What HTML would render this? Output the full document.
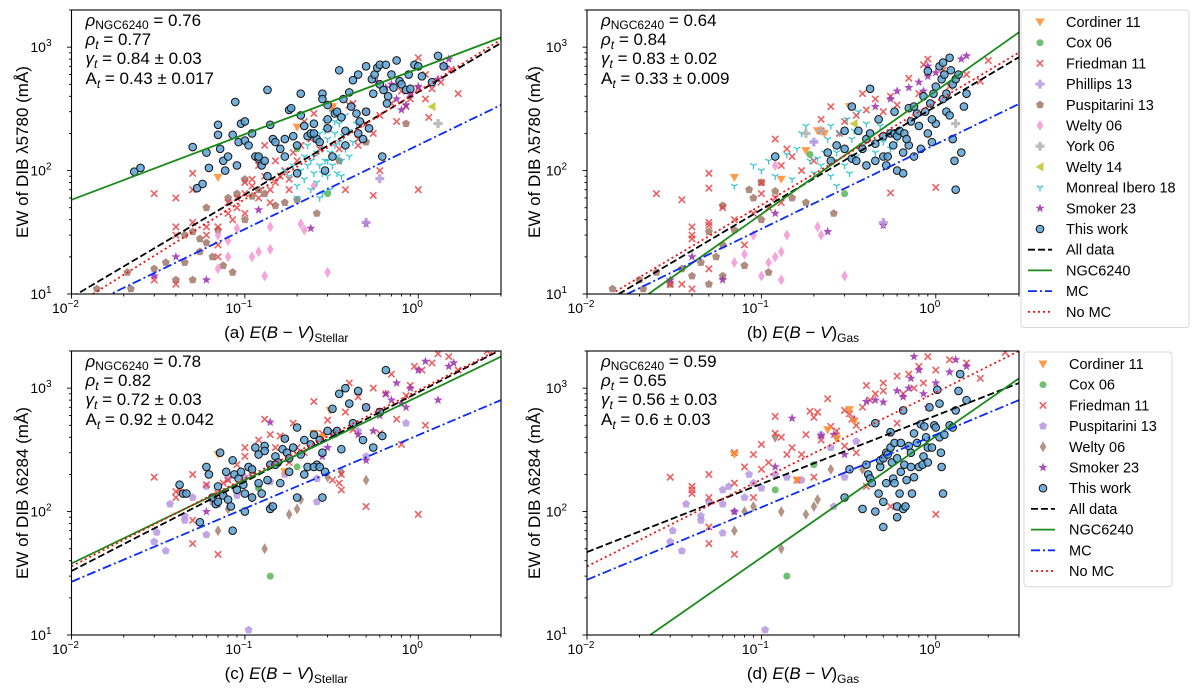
<!DOCTYPE html>
<html><head><meta charset="utf-8">
<style>
html,body{margin:0;padding:0;background:#fff;}
svg{display:block;font-family:"Liberation Sans","DejaVu Sans",sans-serif;}
</style></head>
<body>
<svg id="fig" width="1200" height="695" viewBox="0 0 1200 695" xmlns="http://www.w3.org/2000/svg"></svg>
<script>
// ---------- DATA ----------
// Panel a: EW 5780 vs E(B-V) stellar
const a_thisWork=[[0.023,98],[0.025,105],[0.05,155],[0.053,72],[0.057,78],[0.06,140],[0.062,105],[0.07,235],[0.07,195],[0.072,150],[0.075,120],[0.077,100],[0.08,130],[0.085,195],[0.088,360],[0.09,110],[0.092,170],[0.095,240],[0.1,250],[0.1,175],[0.105,160],[0.11,200],[0.115,130],[0.12,125],[0.125,110],[0.13,120],[0.135,450],[0.135,90],[0.14,235],[0.145,180],[0.15,170],[0.16,150],[0.17,180],[0.18,310],[0.185,320],[0.19,190],[0.2,160],[0.21,420],[0.21,280],[0.22,230],[0.23,190],[0.24,200],[0.25,240],[0.26,180],[0.27,170],[0.28,420],[0.28,380],[0.3,260],[0.3,220],[0.32,130],[0.33,290],[0.34,300],[0.35,650],[0.36,270],[0.37,380],[0.38,210],[0.4,430],[0.41,330],[0.42,540],[0.44,290],[0.45,600],[0.46,250],[0.48,180],[0.5,700],[0.5,300],[0.52,220],[0.54,550],[0.56,600],[0.58,680],[0.6,720],[0.6,500],[0.62,130],[0.63,450],[0.65,720],[0.67,400],[0.7,600],[0.72,470],[0.75,780],[0.78,530],[0.8,500],[0.85,450],[0.88,600],[0.9,460],[0.95,720],[1.0,700],[1.05,580],[1.2,520],[1.3,850],[1.4,700],[0.45,200],[0.38,160],[0.3,340],[0.55,420],[0.66,350],[0.12,130],[0.17,130],[0.25,200],[0.2,95],[0.29,100]];
const a_monreal=[[0.18,90],[0.19,110],[0.2,75],[0.21,100],[0.22,130],[0.22,85],[0.23,160],[0.24,70],[0.24,120],[0.25,95],[0.25,180],[0.26,140],[0.26,80],[0.27,110],[0.27,200],[0.28,65],[0.28,150],[0.29,120],[0.29,250],[0.3,90],[0.3,180],[0.31,70],[0.31,140],[0.32,110],[0.32,300],[0.33,200],[0.33,160],[0.34,95],[0.34,130],[0.35,240],[0.35,170],[0.36,120],[0.37,190],[0.38,150],[0.38,280],[0.4,210],[0.4,130],[0.42,170],[0.44,240],[0.2,60],[0.17,100],[0.27,60],[0.36,90],[0.3,120],[0.23,110],[0.29,210],[0.33,250],[0.25,130],[0.31,220],[0.28,95]];
const a_friedman=[[0.03,65],[0.03,13],[0.04,60],[0.04,35],[0.04,30],[0.04,12],[0.05,95],[0.05,70],[0.05,38],[0.06,30],[0.06,35],[0.07,35],[0.07,25],[0.07,20],[0.08,45],[0.08,55],[0.085,40],[0.09,50],[0.09,60],[0.1,65],[0.1,80],[0.1,45],[0.11,85],[0.11,75],[0.12,60],[0.12,110],[0.13,160],[0.13,90],[0.14,70],[0.14,55],[0.15,120],[0.15,80],[0.16,90],[0.17,100],[0.18,85],[0.18,70],[0.19,140],[0.2,120],[0.21,160],[0.22,250],[0.24,180],[0.25,290],[0.27,150],[0.3,220],[0.32,320],[0.35,150],[0.38,70],[0.42,350],[0.45,160],[0.5,240],[0.5,300],[0.55,200],[0.55,63],[0.6,100],[0.6,280],[0.7,350],[0.75,250],[0.8,440],[0.85,330],[0.9,380],[1.0,70],[1.0,460],[1.1,600],[1.1,380],[1.15,270],[1.2,460],[1.35,520],[1.55,660],[1.7,420],[1.0,820],[0.45,180],[0.4,340]];
const a_puspitarini=[[0.014,11],[0.021,15],[0.022,11],[0.03,16],[0.035,18],[0.04,13],[0.045,18],[0.05,13],[0.05,32],[0.055,22],[0.06,50],[0.06,26],[0.065,20],[0.07,33],[0.075,17],[0.08,60],[0.085,15],[0.09,65],[0.1,40],[0.1,85],[0.11,62],[0.13,65],[0.15,52],[0.17,55],[0.2,58],[0.26,45],[0.35,120],[0.5,170],[0.85,240],[0.045,30],[0.055,28],[0.12,70]];
const a_welty06=[[0.07,30],[0.08,20],[0.08,27],[0.09,34],[0.11,20],[0.12,22],[0.13,14],[0.14,23],[0.14,35],[0.21,37],[0.22,33],[0.3,15],[0.5,38],[0.07,16],[0.25,75]];
const a_smoker=[[0.03,14],[0.04,20],[0.06,13],[0.12,48],[0.24,34],[0.5,37],[0.75,380],[0.8,310],[0.85,340],[0.9,420],[1.0,480],[1.3,550],[1.4,720],[1.5,800],[1.45,690],[0.7,500],[0.65,470],[0.58,520]];
const a_cordiner=[[0.07,88],[0.32,330],[0.2,225]];
const a_phillips=[[0.6,86],[0.5,38]];
const a_york=[[1.3,240]];
const a_welty14=[[1.2,330]];
const a_cox=[[0.2,150],[0.3,65]];
const a_lineAll=[[0.01,9.4],[3,1080]];
const a_lineNGC=[[0.01,58],[3,1200]];
const a_lineMC=[[0.01,7],[3,340]];
const a_lineNoMC=[[0.01,7.8],[3,1150]];

// Panel b: EW 5780 vs E(B-V) gas
const b_thisWork=[[0.12,130],[0.33,330],[0.42,460],[0.24,140],[0.25,120],[0.27,160],[0.3,150],[0.3,210],[0.33,125],[0.35,120],[0.36,210],[0.38,150],[0.4,180],[0.4,110],[0.42,200],[0.45,165],[0.47,260],[0.5,190],[0.5,130],[0.52,110],[0.53,130],[0.55,200],[0.57,160],[0.58,200],[0.6,100],[0.6,190],[0.62,210],[0.65,95],[0.65,140],[0.66,200],[0.7,320],[0.7,160],[0.72,250],[0.75,130],[0.78,290],[0.8,230],[0.82,150],[0.85,400],[0.87,300],[0.9,200],[0.9,640],[0.93,350],[0.95,170],[0.97,420],[1.0,480],[1.0,240],[1.05,700],[1.08,550],[1.1,750],[1.1,380],[1.12,600],[1.15,300],[1.2,820],[1.22,650],[1.25,500],[1.25,180],[1.28,120],[1.3,70],[1.3,550],[1.35,600],[1.4,140],[1.45,330],[1.5,420],[1.2,280],[0.45,120],[0.75,330],[0.95,260],[1.15,420],[0.58,300],[0.68,180]];
const b_monreal=[[0.07,75],[0.09,110],[0.1,100],[0.11,120],[0.12,90],[0.14,135],[0.15,85],[0.16,150],[0.17,200],[0.18,230],[0.19,120],[0.2,170],[0.2,95],[0.22,110],[0.23,140],[0.24,180],[0.25,90],[0.26,120],[0.27,75],[0.28,200],[0.29,150],[0.3,110],[0.31,260],[0.32,95],[0.33,180],[0.35,130],[0.36,300],[0.38,160],[0.4,240],[0.42,190],[0.45,140],[0.48,230],[0.5,170],[0.52,200],[0.55,150],[0.6,180],[0.27,140],[0.21,125],[0.34,210],[0.25,230]];
const b_friedman=[[0.025,65],[0.03,12],[0.035,58],[0.035,12],[0.04,35],[0.04,30],[0.04,28],[0.04,11],[0.05,95],[0.05,72],[0.05,36],[0.05,38],[0.05,16],[0.06,50],[0.07,40],[0.08,25],[0.09,45],[0.1,65],[0.1,80],[0.11,50],[0.12,60],[0.12,180],[0.13,55],[0.14,150],[0.15,130],[0.17,100],[0.2,120],[0.22,210],[0.22,260],[0.25,330],[0.28,200],[0.3,250],[0.35,280],[0.38,420],[0.4,310],[0.45,380],[0.5,300],[0.55,400],[0.55,66],[0.6,340],[0.7,560],[0.8,420],[0.85,720],[0.9,800],[1.0,73],[1.1,650],[1.2,480],[1.5,600],[1.8,530],[2.0,780],[0.13,110]];
const b_puspitarini=[[0.014,11],[0.02,13],[0.021,11],[0.025,15],[0.03,12],[0.035,16],[0.04,14],[0.045,18],[0.05,32],[0.05,12],[0.055,20],[0.06,52],[0.06,14],[0.07,33],[0.08,17],[0.085,70],[0.09,60],[0.1,80],[0.11,15],[0.12,68],[0.15,60],[0.18,55],[0.26,45],[0.06,25],[0.1,40]];
const b_welty06=[[0.07,18],[0.08,21],[0.09,30],[0.1,14],[0.11,18],[0.12,20],[0.13,13],[0.13,22],[0.14,30],[0.21,35],[0.22,30],[0.3,14],[0.5,37],[0.12,110]];
const b_smoker=[[0.03,13],[0.04,20],[0.06,13],[0.12,45],[0.24,32],[0.5,36],[0.45,330],[0.6,440],[0.7,470],[0.8,520],[0.85,440],[0.9,580],[1.0,620],[1.4,800],[1.5,850],[0.9,700],[0.55,380]];
const b_cordiner=[[0.07,88],[0.18,145],[0.21,210],[0.23,200],[0.32,330],[0.13,85]];
const b_phillips=[[0.5,38],[0.2,170]];
const b_york=[[0.18,200],[0.22,210],[1.3,240]];
const b_welty14=[[0.34,240]];
const b_cox=[[0.19,135],[0.3,65]];
const b_lineAll=[[0.0152,10],[3,830]];
const b_lineNGC=[[0.0225,10],[3,1320]];
const b_lineMC=[[0.017,10],[3,347]];
const b_lineNoMC=[[0.0146,10.5],[3,905]];

// Panel c: EW 6284 vs E(B-V) stellar
const c_thisWork=[[0.042,165],[0.044,140],[0.046,140],[0.055,82],[0.06,230],[0.062,200],[0.065,130],[0.068,115],[0.07,160],[0.072,300],[0.075,135],[0.078,210],[0.08,125],[0.083,110],[0.085,260],[0.085,70],[0.087,200],[0.09,150],[0.092,185],[0.095,210],[0.098,165],[0.1,140],[0.1,100],[0.105,230],[0.11,220],[0.115,330],[0.12,170],[0.12,290],[0.125,140],[0.13,340],[0.13,310],[0.135,180],[0.14,105],[0.14,240],[0.145,110],[0.15,280],[0.155,250],[0.16,170],[0.165,320],[0.17,390],[0.175,300],[0.18,210],[0.19,330],[0.2,480],[0.2,130],[0.21,290],[0.22,200],[0.22,380],[0.23,230],[0.24,350],[0.25,420],[0.26,240],[0.27,380],[0.28,300],[0.28,130],[0.29,210],[0.3,450],[0.32,680],[0.33,430],[0.34,450],[0.36,320],[0.38,1000],[0.4,750],[0.42,520],[0.45,950],[0.48,380],[0.5,700],[0.55,330],[0.6,640],[0.62,410],[0.65,1400],[0.25,230],[0.15,240],[0.11,130],[0.35,900],[0.18,270],[0.07,120],[0.27,230]];
const c_friedman=[[0.03,190],[0.04,130],[0.04,145],[0.042,150],[0.05,200],[0.05,85],[0.05,55],[0.06,165],[0.07,45],[0.07,140],[0.075,170],[0.08,180],[0.09,240],[0.1,280],[0.1,330],[0.11,210],[0.12,380],[0.13,560],[0.14,420],[0.15,330],[0.16,410],[0.17,390],[0.18,250],[0.19,520],[0.2,330],[0.22,300],[0.25,780],[0.28,430],[0.3,550],[0.32,180],[0.35,170],[0.36,150],[0.38,640],[0.4,1100],[0.42,460],[0.45,850],[0.5,700],[0.5,110],[0.55,1000],[0.6,430],[0.65,900],[0.7,1300],[0.75,560],[0.8,350],[0.85,870],[0.9,1050],[0.95,1500],[1.0,95],[1.05,1400],[1.1,500],[1.2,1600],[1.3,1900],[1.5,1800],[1.7,1400],[2.5,2000],[0.36,200],[0.6,650]];
const c_puspitarini=[[0.03,57],[0.031,68],[0.035,48],[0.037,115],[0.045,85],[0.045,92],[0.05,130],[0.06,65],[0.06,160],[0.065,120],[0.075,140],[0.08,185],[0.09,135],[0.1,190],[0.105,11],[0.12,160],[0.14,175],[0.17,200],[0.26,120],[0.26,185],[0.45,450],[0.85,520],[0.5,280]];
const c_welty06=[[0.07,70],[0.08,105],[0.13,50],[0.14,110],[0.18,95],[0.2,105],[0.21,125],[0.3,190],[0.36,210],[0.5,180],[0.11,130]];
const c_smoker=[[0.06,100],[0.07,115],[0.14,530],[0.28,280],[0.3,330],[0.45,420],[0.5,260],[0.55,450],[0.6,600],[0.7,800],[0.75,1100],[0.8,750],[0.85,700],[0.9,1000],[1.0,1400],[1.1,1650],[1.3,800],[1.5,1500],[1.6,1600],[0.65,900]];
const c_cordiner=[[0.07,290],[0.17,210],[0.25,430],[0.28,400],[0.31,660]];
const c_cox=[[0.14,30],[0.2,230],[0.12,155]];
const c_lineAll=[[0.01,33],[3,2050]];
const c_lineNGC=[[0.01,38],[3,1800]];
const c_lineMC=[[0.01,27],[3,800]];
const c_lineNoMC=[[0.01,36],[3,2100]];

// Panel d: EW 6284 vs E(B-V) gas
const d_thisWork=[[0.3,130],[0.32,220],[0.38,105],[0.4,240],[0.41,200],[0.42,185],[0.43,170],[0.45,520],[0.45,100],[0.47,140],[0.48,230],[0.48,260],[0.5,75],[0.5,270],[0.5,120],[0.52,300],[0.52,170],[0.53,290],[0.55,330],[0.55,440],[0.56,250],[0.57,185],[0.58,170],[0.58,360],[0.6,90],[0.6,270],[0.6,110],[0.62,140],[0.63,360],[0.63,210],[0.65,660],[0.65,105],[0.66,240],[0.67,110],[0.68,180],[0.7,340],[0.72,300],[0.73,140],[0.75,190],[0.75,430],[0.78,360],[0.8,230],[0.82,510],[0.84,240],[0.86,490],[0.88,400],[0.9,330],[0.92,700],[0.95,330],[0.98,500],[1.0,480],[1.02,970],[1.05,750],[1.05,400],[1.07,300],[1.08,230],[1.1,140],[1.12,420],[1.2,500],[1.25,480],[1.3,660],[1.35,950],[1.38,1300],[1.5,800],[0.72,230],[0.85,280],[0.9,250]];
const d_friedman=[[0.03,190],[0.04,140],[0.04,150],[0.04,160],[0.05,200],[0.05,75],[0.05,55],[0.05,130],[0.07,45],[0.07,300],[0.07,170],[0.08,230],[0.09,290],[0.09,130],[0.1,350],[0.1,220],[0.11,250],[0.12,590],[0.12,430],[0.13,400],[0.14,290],[0.15,330],[0.16,180],[0.17,290],[0.18,420],[0.19,650],[0.2,580],[0.21,640],[0.22,380],[0.24,820],[0.25,490],[0.27,450],[0.3,340],[0.3,660],[0.32,620],[0.33,560],[0.35,500],[0.38,700],[0.4,1050],[0.4,160],[0.42,800],[0.45,900],[0.5,950],[0.5,1100],[0.55,110],[0.6,1250],[0.6,520],[0.65,900],[0.7,1300],[0.75,1000],[0.8,1500],[0.85,1100],[0.9,1800],[1.0,1400],[1.0,95],[1.2,1700],[1.5,1600],[1.8,1200],[2.5,1950],[0.2,190],[0.35,300]];
const d_puspitarini=[[0.03,57],[0.031,70],[0.035,48],[0.037,115],[0.045,85],[0.045,92],[0.05,120],[0.06,115],[0.06,150],[0.06,67],[0.065,160],[0.07,100],[0.08,130],[0.085,200],[0.09,170],[0.1,155],[0.105,11],[0.12,200],[0.14,190],[0.17,180],[0.26,110],[0.3,190],[0.25,330],[0.35,370],[0.22,420]];
const d_welty06=[[0.07,70],[0.08,100],[0.09,110],[0.13,50],[0.13,100],[0.18,95],[0.2,110],[0.21,125],[0.25,220],[0.12,400],[0.27,400],[0.38,220]];
const d_smoker=[[0.07,100],[0.12,230],[0.15,570],[0.22,410],[0.26,420],[0.3,290],[0.34,560],[0.4,780],[0.45,800],[0.5,770],[0.55,430],[0.6,950],[0.65,850],[0.7,1000],[0.72,1200],[0.8,1400],[0.85,900],[0.9,700],[1.0,1100],[1.2,1350],[1.3,1700],[1.5,1500],[0.75,1800]];
const d_cordiner=[[0.07,290],[0.16,180],[0.24,460],[0.27,390],[0.32,670],[0.34,540]];
const d_cox=[[0.14,30],[0.12,150],[0.2,240]];
const d_lineAll=[[0.01,47],[3,1100]];
const d_lineNGC=[[0.023,10],[3,1200]];
const d_lineMC=[[0.01,28],[3,800]];
const d_lineNoMC=[[0.01,36],[3,2000]];

const xTickValues=[0.01,0.1,1];
const xTickExps=["−2","−1","0"];
const yTickValues=[10,100,1000];
const yTickExps=["1","2","3"];
const statsA=["0.76","0.77","0.84 ± 0.03","0.43 ± 0.017"];
const statsB=["0.64","0.84","0.83 ± 0.02","0.33 ± 0.009"];
const statsC=["0.78","0.82","0.72 ± 0.03","0.92 ± 0.042"];
const statsD=["0.59","0.65","0.56 ± 0.03","0.6 ± 0.03"];

// ---------- DRAWING ----------
const NS="http://www.w3.org/2000/svg";
const svg=document.getElementById('fig');
const XMIN=0.01,XMAX=3,YMIN=10,YMAX=2000;
function mk(tag,attrs,parent){const e=document.createElementNS(NS,tag);for(const k in attrs)e.setAttribute(k,attrs[k]);(parent||svg).appendChild(e);return e;}
function makeAxes(L,R,T,B){
  return {
    x:v=>L+(Math.log10(v)-Math.log10(XMIN))/(Math.log10(XMAX)-Math.log10(XMIN))*(R-L),
    y:v=>B-(Math.log10(v)-Math.log10(YMIN))/(Math.log10(YMAX)-Math.log10(YMIN))*(B-T),
    L,R,T,B
  };
}
const COL={thisWork:'#5da2d5',friedman:'#e8383b',monreal:'#17becf',puspBrown:'#a0786a',puspLilac:'#b597e0',weltyPink:'#f28fd0',weltyBrown:'#a07a6a',smoker:'#9a2fae',cordiner:'#ff8c2a',cox:'#4cb050',phillips:'#b597e0',york:'#b0b0b0',welty14:'#c2c22a'};

function marker(g,type,cx,cy,color){
  let e;
  if(type==='circle'){e=mk('circle',{cx,cy,r:3.8,fill:color,'fill-opacity':0.85,stroke:'#111','stroke-width':1},g);}
  else if(type==='dot'){e=mk('circle',{cx,cy,r:3.5,fill:color,'fill-opacity':0.8},g);}
  else if(type==='x'){const s=3.2;e=mk('path',{d:`M${cx-s},${cy-s}L${cx+s},${cy+s}M${cx-s},${cy+s}L${cx+s},${cy-s}`,stroke:color,'stroke-width':1.6,'stroke-opacity':0.8,fill:'none'},g);}
  else if(type==='tri1'){const s=3.8;e=mk('path',{d:`M${cx},${cy}L${cx},${cy+s}M${cx},${cy}L${cx-s*0.87},${cy-s*0.5}M${cx},${cy}L${cx+s*0.87},${cy-s*0.5}`,stroke:color,'stroke-width':1.3,'stroke-opacity':0.85,fill:'none'},g);}
  else if(type==='pent'){let p=[];for(let i=0;i<5;i++){const a=-Math.PI/2+i*2*Math.PI/5;p.push((cx+4.2*Math.cos(a)).toFixed(1)+','+(cy+4.2*Math.sin(a)).toFixed(1));}e=mk('polygon',{points:p.join(' '),fill:color,'fill-opacity':0.85},g);}
  else if(type==='star'){let p=[];for(let i=0;i<10;i++){const r=i%2?2.0:4.8;const a=-Math.PI/2+i*Math.PI/5;p.push((cx+r*Math.cos(a)).toFixed(1)+','+(cy+r*Math.sin(a)).toFixed(1));}e=mk('polygon',{points:p.join(' '),fill:color,'fill-opacity':0.85},g);}
  else if(type==='diamond'){e=mk('polygon',{points:`${cx},${cy-5.5} ${cx+3.3},${cy} ${cx},${cy+5.5} ${cx-3.3},${cy}`,fill:color,'fill-opacity':0.8},g);}
  else if(type==='tdown'){e=mk('polygon',{points:`${cx-4.6},${cy-3.5} ${cx+4.6},${cy-3.5} ${cx},${cy+4.5}`,fill:color,'fill-opacity':0.85},g);}
  else if(type==='tleft'){e=mk('polygon',{points:`${cx+3.5},${cy-4.6} ${cx+3.5},${cy+4.6} ${cx-4.5},${cy}`,fill:color,'fill-opacity':0.85},g);}
  else if(type==='plus'){const a=1.6,b=4.5;e=mk('path',{d:`M${cx-a},${cy-b}H${cx+a}V${cy-a}H${cx+b}V${cy+a}H${cx+a}V${cy+b}H${cx-a}V${cy+a}H${cx-b}V${cy-a}H${cx-a}Z`,fill:color,'fill-opacity':0.85},g);}
  return e;
}
function scatter(ax,g,pts,type,color,name){
  const grp=mk('g',{},g);
  
  
  pts.forEach(p=>{
    const e=marker(grp,type,ax.x(p[0]),ax.y(p[1]),color);
    
    
  });
}
function fitLine(ax,g,pts,color,dash,name,w){
  const e=mk('line',{x1:ax.x(pts[0][0]),y1:ax.y(pts[0][1]),x2:ax.x(pts[1][0]),y2:ax.y(pts[1][1]),stroke:color,'stroke-width':w||1.8,'stroke-dasharray':dash},g);
  
  
}
function panel(id,L,R,T,B,cfg){
  const ax=makeAxes(L,R,T,B);
  const root=mk('g',{});
  
  
  const cp=mk('clipPath',{id:'clip'+id},root);
  mk('rect',{x:L,y:T,width:R-L,height:B-T},cp);
  const g=mk('g',{'clip-path':'url(#clip'+id+')'},root);
  cfg.series.forEach(s=>scatter(ax,g,s[0],s[1],s[2],s[3]));
  fitLine(ax,g,cfg.lines.all,'#000','7,3','all-data-fit-line');
  fitLine(ax,g,cfg.lines.ngc,'#1a8a1a','none','ngc6240-fit-line');
  fitLine(ax,g,cfg.lines.mc,'#0a2af5','9,3,2,3','mc-fit-line');
  fitLine(ax,g,cfg.lines.nomc,'#f31010','2,3','no-mc-fit-line');
  // frame
  const fr=mk('rect',{x:L,y:T,width:R-L,height:B-T,fill:'none',stroke:'#000','stroke-width':1.1},root);
  
  
  // x ticks
  const tg=mk('g',{},root);
  
  
  for(let k=-2;k<=0;k++){for(let m=1;m<10;m++){const v=m*Math.pow(10,k);if(v>XMAX)break;const px=ax.x(v);mk('line',{x1:px,y1:B,x2:px,y2:B+(m===1?4.5:2.5),stroke:'#000','stroke-width':0.9},tg);}}
  xTickValues.forEach((v,i)=>{
    const t=mk('text',{x:ax.x(v)-6,y:B+19,'text-anchor':'middle','font-size':14},tg);
    
    
    t.appendChild(document.createTextNode('10'));
    const s=mk('tspan',{dy:-6,'font-size':10},t);s.textContent=xTickExps[i];
  });
  // y ticks
  const yg=mk('g',{},root);
  
  
  for(let k=1;k<=3;k++){for(let m=1;m<10;m++){const v=m*Math.pow(10,k);if(v>YMAX)break;const py=ax.y(v);mk('line',{x1:L,y1:py,x2:L-(m===1?4.5:2.5),y2:py,stroke:'#000','stroke-width':0.9},yg);}}
  yTickValues.forEach((v,i)=>{
    const t=mk('text',{x:L-20,y:ax.y(v)+5,'text-anchor':'end','font-size':14},yg);
    
    
    t.appendChild(document.createTextNode('10'));
    const s=mk('tspan',{dy:-6,'font-size':10},t);s.textContent=yTickExps[i];
  });
  // stats text
  const st=mk('g',{'font-size':17},root);
  
  
  const tx=L+14, ty=T+16;
  let t=mk('text',{x:tx,y:ty},st);t.innerHTML='<tspan font-style="italic">ρ</tspan><tspan font-size="12" dy="3">NGC6240</tspan><tspan dy="-3"> = '+cfg.stats[0]+'</tspan>';
  t=mk('text',{x:tx,y:ty+19},st);t.innerHTML='<tspan font-style="italic">ρ</tspan><tspan font-style="italic" font-size="12" dy="4">t</tspan><tspan dy="-4"> = '+cfg.stats[1]+'</tspan>';
  t=mk('text',{x:tx,y:ty+38},st);t.innerHTML='<tspan font-style="italic">γ</tspan><tspan font-style="italic" font-size="12" dy="4">t</tspan><tspan dy="-4"> = '+cfg.stats[2]+'</tspan>';
  t=mk('text',{x:tx,y:ty+58},st);t.innerHTML='A<tspan font-style="italic" font-size="12" dy="4">t</tspan><tspan dy="-4"> = '+cfg.stats[3]+'</tspan>';
  // x label
  const xl=mk('text',{x:(L+R)/2,y:B+44,'text-anchor':'middle','font-size':17},root);
  
  
  xl.innerHTML=cfg.xlab+' <tspan font-style="italic">E</tspan>(<tspan font-style="italic">B</tspan> − <tspan font-style="italic">V</tspan>)<tspan font-size="12" dy="4">'+cfg.xsub+'</tspan>';
  // y label
  const cy=(T+B)/2;
  const yl=mk('text',{x:cfg.ylx,y:cy,'text-anchor':'middle','font-size':17,transform:`rotate(-90 ${cfg.ylx} ${cy})`},root);
  
  
  yl.textContent='EW of DIB λ'+cfg.dib+' (mÅ)';
}
panel('a',71.5,501,10,294,{stats:statsA,xlab:'(a)',xsub:'Stellar',dib:'5780',ylx:28,
  series:[[a_puspitarini,'pent',COL.puspBrown,'puspitarini-13'],[a_welty06,'diamond',COL.weltyPink,'welty-06'],[a_friedman,'x',COL.friedman,'friedman-11'],[a_monreal,'tri1',COL.monreal,'monreal-ibero-18'],[a_smoker,'star',COL.smoker,'smoker-23'],[a_cordiner,'tdown',COL.cordiner,'cordiner-11'],[a_cox,'dot',COL.cox,'cox-06'],[a_phillips,'plus',COL.phillips,'phillips-13'],[a_york,'plus',COL.york,'york-06'],[a_welty14,'tleft',COL.welty14,'welty-14'],[a_thisWork,'circle',COL.thisWork,'this-work']],
  lines:{all:a_lineAll,ngc:a_lineNGC,mc:a_lineMC,nomc:a_lineNoMC}});
panel('b',587,1019,10,294,{stats:statsB,xlab:'(b)',xsub:'Gas',dib:'5780',ylx:540,
  series:[[b_puspitarini,'pent',COL.puspBrown,'puspitarini-13'],[b_welty06,'diamond',COL.weltyPink,'welty-06'],[b_friedman,'x',COL.friedman,'friedman-11'],[b_monreal,'tri1',COL.monreal,'monreal-ibero-18'],[b_smoker,'star',COL.smoker,'smoker-23'],[b_cordiner,'tdown',COL.cordiner,'cordiner-11'],[b_cox,'dot',COL.cox,'cox-06'],[b_phillips,'plus',COL.phillips,'phillips-13'],[b_york,'plus',COL.york,'york-06'],[b_welty14,'tleft',COL.welty14,'welty-14'],[b_thisWork,'circle',COL.thisWork,'this-work']],
  lines:{all:b_lineAll,ngc:b_lineNGC,mc:b_lineMC,nomc:b_lineNoMC}});
panel('c',71.5,501,351,635,{stats:statsC,xlab:'(c)',xsub:'Stellar',dib:'6284',ylx:28,
  series:[[c_puspitarini,'pent',COL.puspLilac,'puspitarini-13'],[c_welty06,'diamond',COL.weltyBrown,'welty-06'],[c_friedman,'x',COL.friedman,'friedman-11'],[c_smoker,'star',COL.smoker,'smoker-23'],[c_cordiner,'tdown',COL.cordiner,'cordiner-11'],[c_cox,'dot',COL.cox,'cox-06'],[c_thisWork,'circle',COL.thisWork,'this-work']],
  lines:{all:c_lineAll,ngc:c_lineNGC,mc:c_lineMC,nomc:c_lineNoMC}});
panel('d',587,1019,351,635,{stats:statsD,xlab:'(d)',xsub:'Gas',dib:'6284',ylx:540,
  series:[[d_puspitarini,'pent',COL.puspLilac,'puspitarini-13'],[d_welty06,'diamond',COL.weltyBrown,'welty-06'],[d_friedman,'x',COL.friedman,'friedman-11'],[d_smoker,'star',COL.smoker,'smoker-23'],[d_cordiner,'tdown',COL.cordiner,'cordiner-11'],[d_cox,'dot',COL.cox,'cox-06'],[d_thisWork,'circle',COL.thisWork,'this-work']],
  lines:{all:d_lineAll,ngc:d_lineNGC,mc:d_lineMC,nomc:d_lineNoMC}});

// ---------- LEGENDS ----------
const legendTop=[['Cordiner 11','tdown',COL.cordiner],['Cox 06','dot',COL.cox],['Friedman 11','x',COL.friedman],['Phillips 13','plus',COL.phillips],['Puspitarini 13','pent',COL.puspBrown],['Welty 06','diamond',COL.weltyPink],['York 06','plus',COL.york],['Welty 14','tleft',COL.welty14],['Monreal Ibero 18','tri1',COL.monreal],['Smoker 23','star',COL.smoker],['This work','circle',COL.thisWork],['All data','line','#000','7,3'],['NGC6240','line','#1a8a1a','none'],['MC','line','#0a2af5','9,3,2,3'],['No MC','line','#f31010','2,3']];
const legendBottom=[['Cordiner 11','tdown',COL.cordiner],['Cox 06','dot',COL.cox],['Friedman 11','x',COL.friedman],['Puspitarini 13','pent',COL.puspLilac],['Welty 06','diamond',COL.weltyBrown],['Smoker 23','star',COL.smoker],['This work','circle',COL.thisWork],['All data','line','#000','7,3'],['NGC6240','line','#1a8a1a','none'],['MC','line','#0a2af5','9,3,2,3'],['No MC','line','#f31010','2,3']];
function legend(items,x,y,w,name){
  const g=mk('g',{});
  
  
  const h=items.length*20.7+7;
  mk('rect',{x,y,width:w,height:h,rx:3,fill:'#fff',stroke:'#d8d8d8','stroke-width':1},g);
  items.forEach((it,i)=>{
    const cy=y+12+i*20.7;
    const eg=mk('g',{},g);
    
    
    if(it[1]==='line'){mk('line',{x1:x+7,y1:cy,x2:x+31,y2:cy,stroke:it[2],'stroke-width':1.8,'stroke-dasharray':it[3]},eg);}
    else marker(eg,it[1],x+19,cy,it[2]);
    const t=mk('text',{x:x+45,y:cy+5,'font-size':14.5},eg);
    t.textContent=it[0];
  });
}
legend(legendTop,1021,10,168,'legend-top');
legend(legendBottom,1024,352,148,'legend-bottom');
</script>
</body></html>
